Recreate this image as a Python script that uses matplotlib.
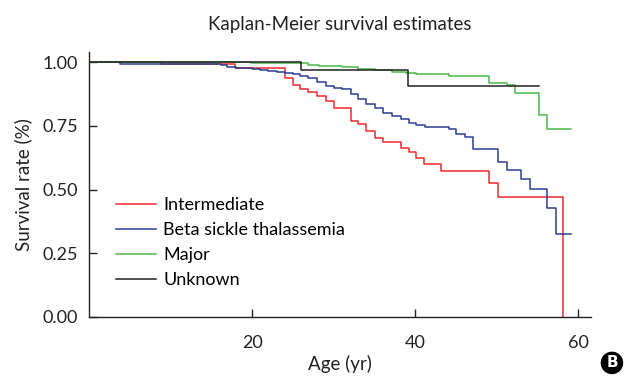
import matplotlib
matplotlib.use('Agg')
import matplotlib.pyplot as plt
from matplotlib.ticker import FormatStrFormatter

plt.rcParams['font.family'] = ['Lato', 'DejaVu Sans']

# step curves: (time, survival)
inter_t = [0, 8.8, 17.9, 24.0, 25.0, 25.9, 26.9, 27.9, 29.1, 30.0, 32.1, 33.0, 34.0,
           35.1, 36.0, 38.2, 39.2, 40.1, 41.1, 43.1, 49.1, 50.1, 58.1]
inter_s = [1.0, 0.992, 0.978, 0.938, 0.910, 0.893, 0.884, 0.868, 0.847, 0.821, 0.769,
           0.757, 0.729, 0.703, 0.686, 0.664, 0.647, 0.624, 0.601, 0.574, 0.527, 0.470, 0.0]

beta_t = [0, 3.8, 16.2, 16.9, 18.0, 19.95, 21.0, 22.0, 23.0, 24.0, 25.0, 25.9, 26.9,
          27.9, 29.0, 30.0, 31.0, 32.1, 33.0, 34.0, 35.1, 36.0, 37.1, 38.2, 39.2, 40.1,
          41.2, 44.1, 45.0, 46.1, 47.1, 50.1, 51.2, 53.0, 54.1, 56.2, 57.2, 59.1]
beta_s = [1.0, 0.995, 0.988, 0.982, 0.978, 0.973, 0.969, 0.965, 0.960, 0.956, 0.952,
          0.946, 0.939, 0.923, 0.907, 0.898, 0.893, 0.875, 0.855, 0.838, 0.821, 0.801,
          0.788, 0.776, 0.762, 0.753, 0.746, 0.736, 0.718, 0.705, 0.660, 0.609, 0.576,
          0.540, 0.503, 0.428, 0.324, 0.324]

major_t = [0, 19.8, 26.9, 28.2, 31.0, 33.0, 35.1, 37.1, 38.9, 40.1, 44.1, 49.1, 51.2,
           52.2, 55.2, 56.2, 59.1]
major_s = [1.0, 0.996, 0.990, 0.985, 0.980, 0.975, 0.968, 0.962, 0.956, 0.952, 0.946,
           0.919, 0.910, 0.881, 0.792, 0.737, 0.737]

unk_t = [0, 26.0, 39.1, 55.2]
unk_s = [1.0, 0.971, 0.906, 0.906]

labels = ['Intermediate', 'Beta sickle thalassemia', 'Major', 'Unknown']
colors = ['#ee2a2e', '#2b3f92', '#4cb84a', '#222222']

fig = plt.figure(figsize=(6.27, 3.8), dpi=100)
ax = fig.add_axes([0.142, 0.166, 0.80, 0.697])

curves = [(inter_t, inter_s), (beta_t, beta_s), (major_t, major_s), (unk_t, unk_s)]
for (t, s), lab, c in zip(curves, labels, colors):
    ax.step(t, s, where='post', color=c, lw=1.1, label=lab)

ax.set_xlim(0, 61.5)
ax.set_ylim(0, 1.04)
ax.set_xticks([20, 40, 60])
ax.set_yticks([0, 0.25, 0.5, 0.75, 1.0])
ax.yaxis.set_major_formatter(FormatStrFormatter('%.2f'))
ax.tick_params(direction='in', length=6, width=1, labelsize=13, colors='#222222')
ax.tick_params(axis='x', pad=13)
ax.tick_params(axis='y', pad=8)
for side in ['top', 'right']:
    ax.spines[side].set_visible(False)
for side in ['left', 'bottom']:
    ax.spines[side].set_color('#222222')
    ax.spines[side].set_linewidth(1)

ax.set_title('Kaplan-Meier survival estimates', fontsize=13.5, pad=16, color='#222222')
ax.set_xlabel('Age (yr)', fontsize=13.5, labelpad=3, color='#222222')
ax.set_ylabel('Survival rate (%)', fontsize=13.5, labelpad=7, color='#222222')

ax.legend(loc='upper left', bbox_to_anchor=(0.054, 0.452), frameon=False, fontsize=13,
          borderpad=0, borderaxespad=0, handlelength=2.2, handletextpad=0.4,
          labelspacing=0.5)

fig.text(0.976, 0.045, 'B', ha='center', va='center', color='white', fontsize=11,
         fontweight='bold', family='DejaVu Sans',
         bbox=dict(boxstyle='circle,pad=0.2', fc='black', ec='black'))

fig.savefig('out.png', dpi=100)
